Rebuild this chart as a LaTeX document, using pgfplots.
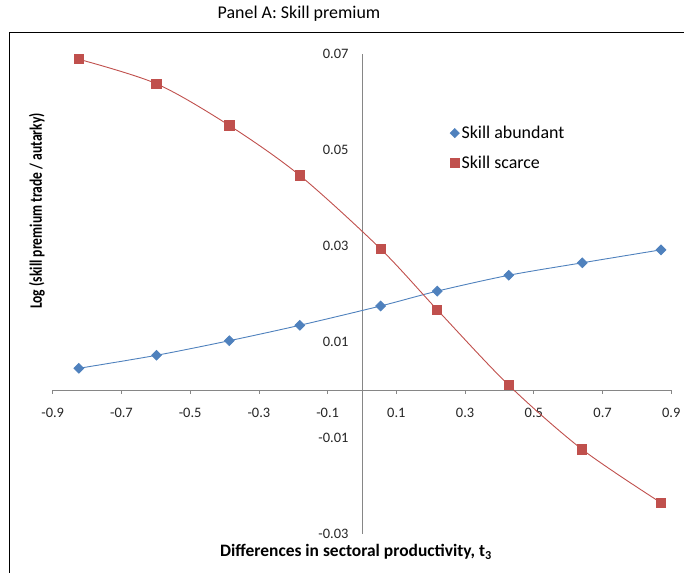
\documentclass[border=0pt]{standalone}
\usepackage{pgfplots}
\pgfplotsset{compat=1.18}
\usepackage{fontspec}
\setmainfont{Carlito}
\definecolor{sblue}{HTML}{4F81BD}
\definecolor{sred}{HTML}{C0504D}
\definecolor{axgray}{HTML}{868686}
\pgfplotstableread{
x y
-0.824 0.00452
-0.598 0.00723
-0.386 0.01027
-0.181 0.01348
0.054 0.0175
0.219 0.0206
0.427 0.0239
0.641 0.0265
0.870 0.0292
}\abundant
\pgfplotstableread{
x y
-0.824 0.0689
-0.598 0.0638
-0.386 0.0551
-0.181 0.0447
0.054 0.0294
0.219 0.0167
0.427 0.0010
0.641 -0.0124
0.870 -0.0235
}\scarce
\begin{document}
\begin{tikzpicture}[x=1bp,y=1bp]
\useasboundingbox (0,0) rectangle (684,573);
\draw[line width=1.6bp,black] (9.3,-20) -- (9.3,540.5) -- (720,540.5);
\node[font=\fontsize{18}{20}\selectfont] at (299,559) {Panel A: Skill premium};
\node[font=\fontsize{17.5}{19}\selectfont\bfseries] at (356,21) {Differences in sectoral productivity, t\textsubscript{3}};
\node[font=\fontsize{17.5}{19}\selectfont\bfseries, rotate=90] at (37,362) {\scalebox{0.78}[1]{Log (skill premium trade / autarky)}};
\begin{axis}[
  at={(52.7bp,39bp)}, anchor=south west,
  scale only axis, width=618.6bp, height=480bp,
  xmin=-0.9, xmax=0.9, ymin=-0.03, ymax=0.07,
  axis lines=middle,
  axis line style={-, draw=axgray, line width=0.8bp},
  clip=false,
  scaled y ticks=false, scaled x ticks=false,
  xtick={-0.9,-0.7,-0.5,-0.3,-0.1,0.1,0.3,0.5,0.7,0.9},
  xticklabels={-0.9,-0.7,-0.5,-0.3,-0.1,0.1,0.3,0.5,0.7,0.9},
  ytick={-0.03,-0.01,0.01,0.03,0.05,0.07},
  yticklabels={-0.03,-0.01,0.01,0.03,0.05,0.07},
  tick align=outside,
  major tick length=4bp,
  x tick style={draw=axgray, line width=0.8bp},
  y tick style={draw=none},
  ticklabel style={font=\fontsize{14.5}{16}\selectfont, text=black!85},
  xticklabel style={yshift=-11bp},
  yticklabel style={xshift=-6bp},
  legend style={draw=none, fill=none, at={(0.637,0.804)}, anchor=west,
    font=\fontsize{18}{20}\selectfont, row sep=12bp,
    /tikz/every even column/.append style={column sep=4bp}},
  legend cell align=left,
  legend image code/.code={\draw[#1] plot coordinates {(0bp,0bp)};},
]
\addplot[sblue, line width=0.9bp, smooth, mark=square*, mark size=3.4bp, mark options={fill=sblue, draw=sblue, rotate=45}, forget plot] table {\abundant};
\addplot[sred, line width=0.9bp, smooth, mark=square*, mark size=4.6bp, mark options={fill=sred, draw=sred}, forget plot] table {\scarce};
\addlegendimage{only marks, mark=square*, mark size=3.4bp, sblue, mark options={fill=sblue, rotate=45}}
\addlegendentry{Skill abundant}
\addlegendimage{only marks, mark=square*, mark size=4.6bp, sred, mark options={fill=sred}}
\addlegendentry{Skill scarce}
\end{axis}
\end{tikzpicture}
\end{document}
